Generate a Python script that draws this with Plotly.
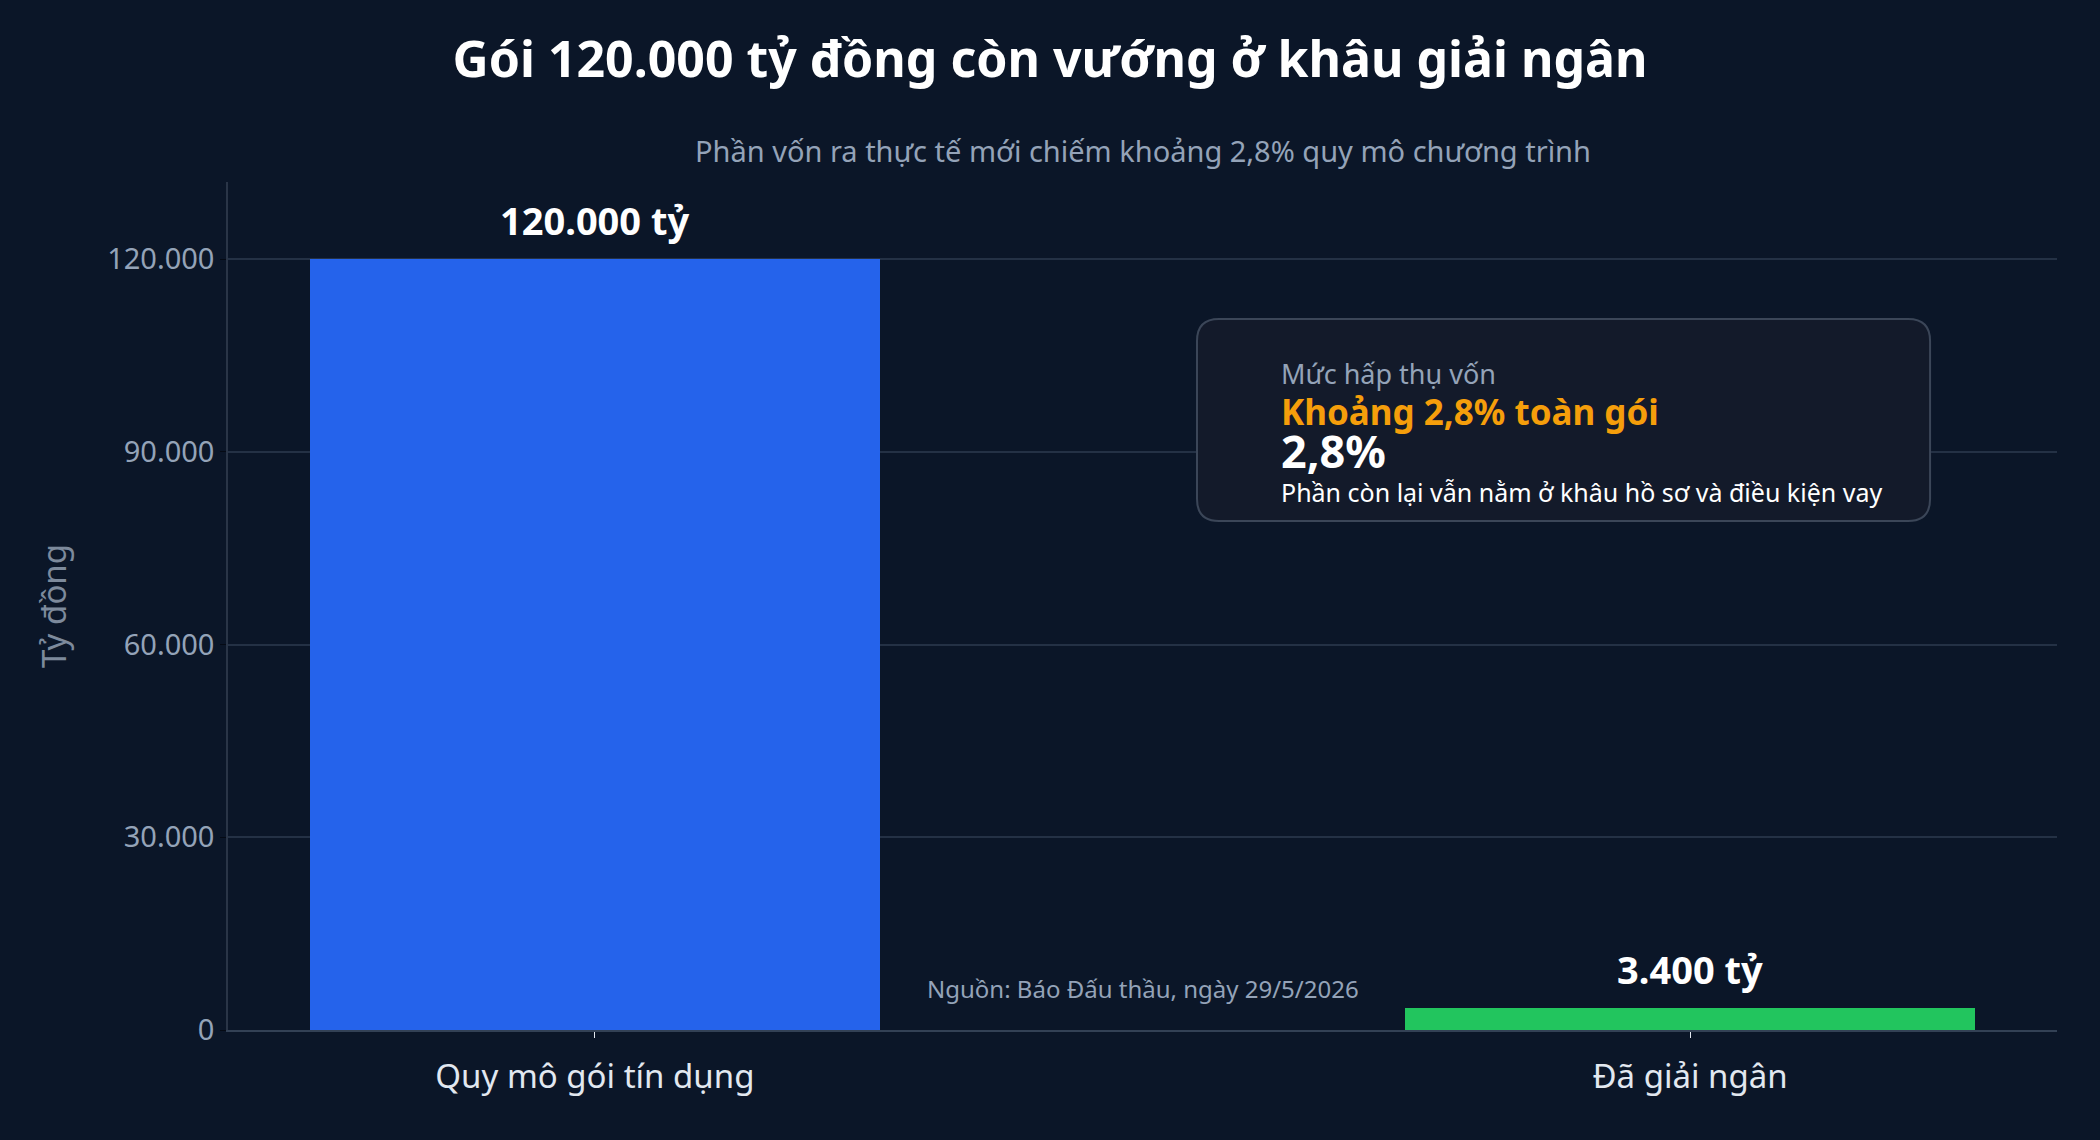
import plotly.graph_objects as go

# data
categories = ["Quy mô gói tín dụng", "Đã giải ngân"]
values = [120000, 3400]
bar_labels = ["120.000 tỷ", "3.400 tỷ"]
bar_colors = ["#2563eb", "#22c55e"]
y_ticks = [0, 30000, 60000, 90000, 120000]

BG = "#0b1628"
GRID = "#243145"
MUTED = "#94a3b8"
FONT = "Noto Sans"

fig = go.Figure(go.Bar(
    x=[0, 1],
    y=values,
    width=0.52,
    marker=dict(color=bar_colors, line=dict(width=0)),
    hoverinfo="skip",
))

# value labels above bars
for i, (v, lab) in enumerate(zip(values, bar_labels)):
    fig.add_annotation(x=i, y=v, text=f"<b>{lab}</b>", showarrow=False,
                       yanchor="bottom", yshift=11,
                       font=dict(family=FONT, size=38, color="white"))

# rounded callout box
x0, x1, y0, y1, r = 0.5298, 0.9306, 0.6002, 0.8384, 0.012
ry = r * 1829 / 848
fig.add_shape(
    type="path", xref="paper", yref="paper",
    path=(f"M {x0+r},{y0} L {x1-r},{y0} Q {x1},{y0} {x1},{y0+ry} "
          f"L {x1},{y1-ry} Q {x1},{y1} {x1-r},{y1} L {x0+r},{y1} "
          f"Q {x0},{y1} {x0},{y1-ry} L {x0},{y0+ry} Q {x0},{y0} {x0+r},{y0} Z"),
    fillcolor="#131a2a", line=dict(color="#3b4658", width=2), layer="above",
)

tx = 0.5748
box_lines = [
    ("Mức hấp thụ vốn", 0.7740, 27, MUTED, False),
    ("Khoảng 2,8% toàn gói", 0.7290, 35, "#f59e0b", True),
    ("2,8%", 0.6830, 45, "white", True),
    ("Phần còn lại vẫn nằm ở khâu hồ sơ và điều kiện vay", 0.6345, 25, "white", False),
]
for txt, yy, sz, col, bold in box_lines:
    fig.add_annotation(xref="paper", yref="paper", x=tx, y=yy,
                       text=f"<b>{txt}</b>" if bold else txt,
                       showarrow=False, xanchor="left", yanchor="middle",
                       font=dict(family=FONT, size=sz, color=col))

# source note
fig.add_annotation(xref="paper", yref="paper", x=0.3812, y=0.0495,
                   text="Nguồn: Báo Đấu thầu, ngày 29/5/2026", showarrow=False,
                   xanchor="left", yanchor="middle",
                   font=dict(family=FONT, size=24, color=MUTED))

# subtitle
fig.add_annotation(xref="paper", yref="paper", x=0.5, y=1.0, yshift=32,
                   text="Phần vốn ra thực tế mới chiếm khoảng 2,8% quy mô chương trình",
                   showarrow=False, yanchor="middle",
                   font=dict(family=FONT, size=29, color=MUTED))

fig.update_layout(
    width=2100, height=1140,
    paper_bgcolor=BG, plot_bgcolor=BG,
    separators=",.",
    margin=dict(l=228, r=43, t=182, b=110),
    showlegend=False,
    font=dict(family=FONT, color="white"),
    title=dict(text="<b>Gói 120.000 tỷ đồng còn vướng ở khâu giải ngân</b>",
               x=0.5, xanchor="center", y=0.948, yanchor="middle",
               font=dict(family=FONT, size=50, color="white")),
    bargap=0,
)

fig.update_xaxes(
    range=[-0.335, 1.335],
    tickvals=[0, 1], ticktext=categories,
    tickfont=dict(family=FONT, size=33, color="#e2e8f0"),
    ticks="outside", ticklen=6, tickcolor="#e2e8f0", tickwidth=1,
    ticklabelstandoff=10,
    showgrid=False, zeroline=False,
    showline=True, linecolor="#334155", linewidth=2,
)
fig.update_yaxes(
    range=[0, 132000],
    tickvals=y_ticks, tickformat=",d",
    tickfont=dict(family=FONT, size=29, color=MUTED),
    ticks="outside", ticklen=6, tickcolor="#050a14",
    gridcolor=GRID, gridwidth=1.5, zeroline=False,
    showline=True, linecolor="#2a3547", linewidth=1.5,
    title=dict(text="Tỷ đồng", font=dict(family=FONT, size=33, color="#7d8a9c"),
               standoff=31),
)

fig.write_html(
    "out.html",
    config={"displayModeBar": False},
    post_script="document.body.style.margin='0';"
                "document.body.style.background='%s';" % BG,
)
